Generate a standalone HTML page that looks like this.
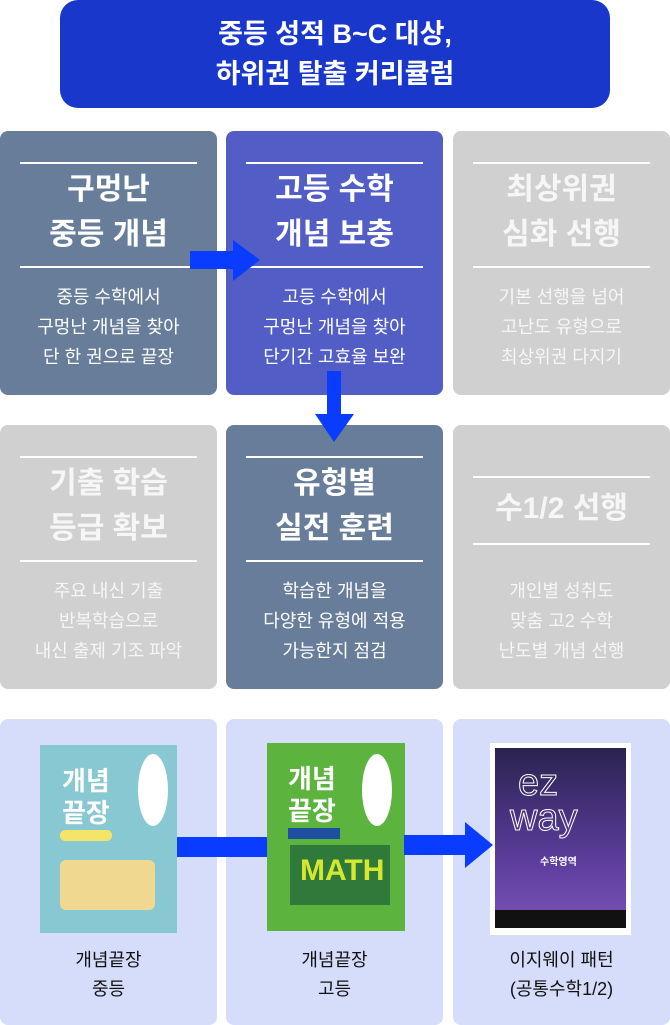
<!DOCTYPE html><html><head><meta charset="utf-8"><style>
*{margin:0;padding:0;box-sizing:border-box}
body{width:670px;height:1025px;background:#fff;position:relative;overflow:hidden;font-family:"Liberation Sans","Noto Sans CJK KR",sans-serif}
.a{position:absolute}
.hd{left:60px;top:0;width:550px;height:108px;background:#1a37cc;border-radius:18px;color:#fff;font-weight:bold;font-size:27px;line-height:40px;text-align:center;padding-top:14px}
.c{position:absolute;width:217px;height:264px;border-radius:8px;color:#fff;text-align:center}
.ln{position:absolute;left:20px;width:177px;height:2px;background:#fff}
.t{position:absolute;left:0;width:100%;font-weight:bold;font-size:30px;line-height:45px}
.b{position:absolute;left:0;width:100%;font-size:18px;line-height:30px}
.g{background:#d0d0d0;color:#f6f6f6}
.s{background:#687d99}
.p{background:#525ec6}
.bk{position:absolute;width:217px;height:306px;top:719px;background:#d6ddfa;border-radius:8px}
.lb{position:absolute;width:217px;top:946px;text-align:center;font-size:18px;line-height:29px;color:#111}
</style></head><body>
<div class="a hd">중등 성적 B~C 대상,<br>하위권 탈출 커리큘럼</div>

<div class="c s" style="left:0;top:131px"><div class="ln" style="top:31px"></div><div class="t" style="top:36px">구멍난<br>중등 개념</div><div class="ln" style="top:135px"></div><div class="b" style="top:151px">중등 수학에서<br>구멍난 개념을 찾아<br>단 한 권으로 끝장</div></div>
<div class="c p" style="left:226px;top:131px"><div class="ln" style="top:31px"></div><div class="t" style="top:36px">고등 수학<br>개념 보충</div><div class="ln" style="top:135px"></div><div class="b" style="top:151px">고등 수학에서<br>구멍난 개념을 찾아<br>단기간 고효율 보완</div></div>
<div class="c g" style="left:453px;top:131px"><div class="ln" style="top:31px"></div><div class="t" style="top:36px">최상위권<br>심화 선행</div><div class="ln" style="top:135px"></div><div class="b" style="top:151px">기본 선행을 넘어<br>고난도 유형으로<br>최상위권 다지기</div></div>

<div class="c g" style="left:0;top:425px"><div class="ln" style="top:31px"></div><div class="t" style="top:36px">기출 학습<br>등급 확보</div><div class="ln" style="top:135px"></div><div class="b" style="top:151px">주요 내신 기출<br>반복학습으로<br>내신 출제 기조 파악</div></div>
<div class="c s" style="left:226px;top:425px"><div class="ln" style="top:31px"></div><div class="t" style="top:36px">유형별<br>실전 훈련</div><div class="ln" style="top:135px"></div><div class="b" style="top:151px">학습한 개념을<br>다양한 유형에 적용<br>가능한지 점검</div></div>
<div class="c g" style="left:453px;top:425px"><div class="ln" style="top:51px"></div><div class="t" style="top:61px">수1/2 선행</div><div class="ln" style="top:118px"></div><div class="b" style="top:151px">개인별 성취도<br>맞춤 고2 수학<br>난도별 개념 선행</div></div>

<svg class="a" style="left:0;top:0" width="670" height="1025">
<rect x="190" y="251" width="46" height="18" fill="#0a3cff"/><polygon points="233,240 260,260 233,281" fill="#0a3cff"/>
<rect x="327" y="371" width="14" height="44" fill="#0a3cff"/><polygon points="315,414 354,414 334,442" fill="#0a3cff"/>
</svg>

<div class="bk" style="left:0"></div><div class="bk" style="left:226px"></div><div class="bk" style="left:453px"></div>
<svg class="a" style="left:0;top:0" width="670" height="1025">
<defs><linearGradient id="sk" x1="0" y1="0" x2="0" y2="1"><stop offset="0" stop-color="#2a2350"/><stop offset=".6" stop-color="#5a3c9a"/><stop offset="1" stop-color="#7a52b8"/></linearGradient></defs>
<rect x="40" y="745" width="137" height="188" fill="#88c8d2"/>
<rect x="60" y="860" width="95" height="50" fill="#f0d890" rx="6"/>
<text x="62" y="790" font-family="Liberation Sans,Noto Sans CJK KR,sans-serif" font-weight="bold" font-size="26" fill="#fff">개념</text>
<text x="62" y="822" font-family="Liberation Sans,Noto Sans CJK KR,sans-serif" font-weight="bold" font-size="26" fill="#fff">끝장</text>
<rect x="60" y="830" width="52" height="11" rx="5" fill="#f5e46a"/>
<ellipse cx="153" cy="790" rx="15" ry="36" fill="#fff"/>
<rect x="267" y="743" width="138" height="188" fill="#5cb33e"/>
<rect x="290" y="845" width="100" height="60" fill="#2f7a3a"/>
<text x="288" y="788" font-family="Liberation Sans,Noto Sans CJK KR,sans-serif" font-weight="bold" font-size="26" fill="#fff">개념</text>
<text x="288" y="820" font-family="Liberation Sans,Noto Sans CJK KR,sans-serif" font-weight="bold" font-size="26" fill="#fff">끝장</text>
<rect x="288" y="828" width="52" height="11" fill="#1f4fa0"/>
<ellipse cx="377" cy="790" rx="15" ry="36" fill="#fff"/>
<text x="300" y="880" font-family="Liberation Sans,sans-serif" font-weight="bold" font-size="30" fill="#d4e830">MATH</text>
<rect x="490" y="743" width="141" height="192" fill="#fff"/>
<rect x="495" y="748" width="131" height="180" fill="url(#sk)"/>
<rect x="495" y="910" width="131" height="18" fill="#111"/>
<text x="518" y="795" font-family="Liberation Sans,sans-serif" font-size="38" fill="none" stroke="#fff" stroke-width="1">ez</text>
<text x="510" y="830" font-family="Liberation Sans,sans-serif" font-size="38" fill="none" stroke="#fff" stroke-width="1">way</text>
<text x="540" y="865" font-family="Liberation Sans,Noto Sans CJK KR,sans-serif" font-weight="bold" font-size="10" fill="#fff">수학영역</text>
<rect x="177" y="837" width="90" height="20" fill="#0a3cff"/>
<rect x="404" y="835" width="62" height="20" fill="#0a3cff"/><polygon points="465,822 493,845 465,868" fill="#0a3cff"/>
</svg>
<div class="lb" style="left:0">개념끝장<br>중등</div>
<div class="lb" style="left:226px">개념끝장<br>고등</div>
<div class="lb" style="left:453px">이지웨이 패턴<br>(공통수학1/2)</div>
</body></html>
